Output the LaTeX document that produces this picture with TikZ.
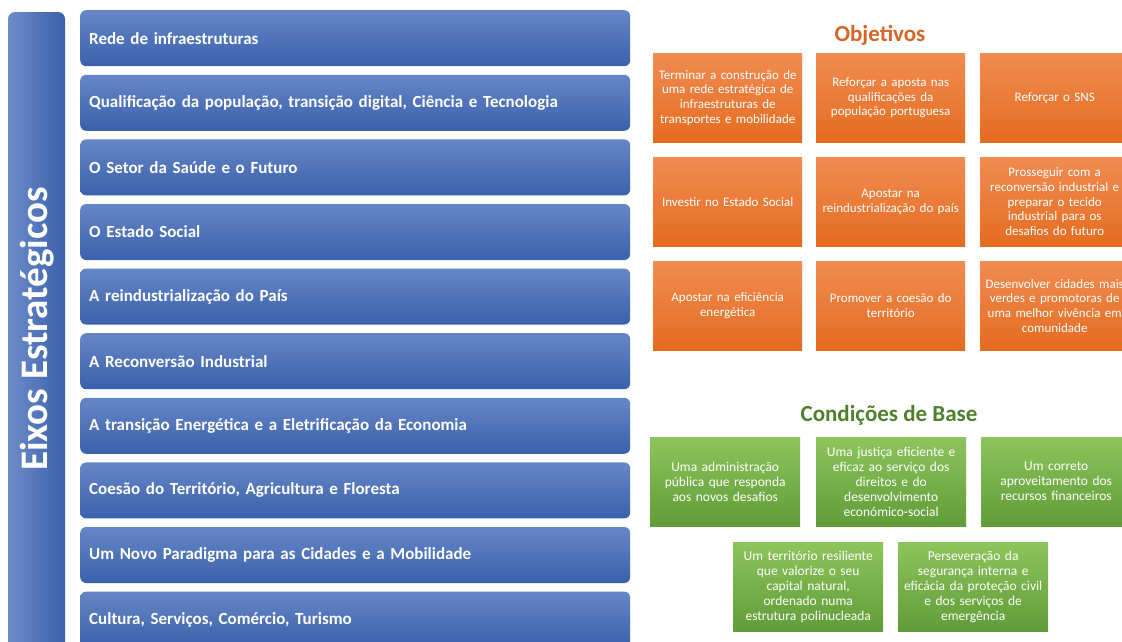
\documentclass[tikz,border=0pt]{standalone}
\usepackage{fontspec}
\setmainfont{Carlito}
\definecolor{bluetop}{RGB}{102,134,198}
\definecolor{bluebot}{RGB}{58,97,172}
\definecolor{orgtop}{RGB}{241,140,82}
\definecolor{orgbot}{RGB}{228,108,32}
\definecolor{grntop}{RGB}{142,196,92}
\definecolor{grnbot}{RGB}{96,156,56}
\definecolor{orgtitle}{RGB}{214,102,40}
\definecolor{grntitle}{RGB}{80,128,46}
\begin{document}
\begin{tikzpicture}[x=1pt,y=-1pt,
  axisbar/.style={rectangle, rounded corners=6pt, top color=bluetop, bottom color=bluebot, draw=none,
    minimum height=56pt, anchor=north west, text=white,
    font=\fontsize{17}{20}\selectfont\bfseries, align=left, text width=532pt, inner xsep=9pt, inner ysep=0pt},
  obox/.style={rectangle, top color=orgtop, bottom color=orgbot, draw=none,
    minimum height=89pt, anchor=north west, text=white, align=center, text width=147pt,
    inner xsep=1pt, inner ysep=0pt, font=\fontsize{13}{14.7}\selectfont},
  gbox/.style={rectangle, top color=grntop, bottom color=grnbot, draw=none,
    minimum height=89pt, anchor=north west, text=white, align=center, text width=148pt,
    inner xsep=1pt, inner ysep=0pt, font=\fontsize{13.5}{15}\selectfont},
  title/.style={font=\fontsize{23}{26}\selectfont\bfseries, inner sep=0pt}
]
\useasboundingbox (0,0) rectangle (1122,641);
\clip (0,0) rectangle (1122,641);
\fill[white] (0,0) rectangle (1122,641);

% left vertical bar
\shade[left color=bluetop!95!white, right color=bluebot, rounded corners=7pt] (8,12) rectangle (65,680);
\node[rotate=90, text=white, font=\fontsize{39}{42}\selectfont\bfseries, inner sep=0pt] (eixos) at (37,329) {Eixos Estratégicos};

% axis bars
\node[axisbar] (b1) at (80,10) {Rede de infraestruturas};
\node[axisbar] (b2) at (80,74.6) {Qualificação da população, transição digital, Ciência e Tecnologia};
\node[axisbar] (b3) at (80,139.2) {O Setor da Saúde e o Futuro};
\node[axisbar] (b4) at (80,203.8) {O Estado Social};
\node[axisbar] (b5) at (80,268.4) {A reindustrialização do País};
\node[axisbar] (b6) at (80,333) {A Reconversão Industrial};
\node[axisbar] (b7) at (80,397.6) {A transição Energética e a Eletrificação da Economia};
\node[axisbar] (b8) at (80,462.2) {Coesão do Território, Agricultura e Floresta};
\node[axisbar] (b9) at (80,526.8) {Um Novo Paradigma para as Cidades e a Mobilidade};
\node[axisbar] (b10) at (80,591.4) {Cultura, Serviços, Comércio, Turismo};

% Objetivos
\node[title, text=orgtitle] (obj) at (880,35) {Objetivos};
\node[obox] (o1) at (653,53) {Terminar a construção de\\uma rede estratégica de\\infraestruturas de\\transportes e mobilidade};
\node[obox] (o2) at (816,53) {Reforçar a aposta nas\\qualificações da\\população portuguesa};
\node[obox] (o3) at (980,53) {Reforçar o SNS};
\node[obox] (o4) at (653,157) {Investir no Estado Social};
\node[obox] (o5) at (816,157) {Apostar na\\reindustrialização do país};
\node[obox] (o6) at (980,157) {Prosseguir com a\\reconversão industrial e\\preparar o tecido\\industrial para os\\desafios do futuro};
\node[obox] (o7) at (653,261) {Apostar na eficiência\\energética};
\node[obox] (o8) at (816,261) {Promover a coesão do\\território};
\node[obox] (o9) at (980,261) {Desenvolver cidades mais\\verdes e promotoras de\\uma melhor vivência em\\comunidade};

% Condicoes de Base
\node[title, text=grntitle] (cond) at (889,415) {Condições de Base};
\node[gbox] (g1) at (650,437) {Uma administração\\pública que responda\\aos novos desafios};
\node[gbox] (g2) at (816,437) {Uma justiça eficiente e\\eficaz ao serviço dos\\direitos e do\\desenvolvimento\\económico-social};
\node[gbox] (g3) at (981,437) {Um correto\\aproveitamento dos\\recursos financeiros};
\node[gbox] (g4) at (733,542) {Um território resiliente\\que valorize o seu\\capital natural,\\ordenado numa\\estrutura polinucleada};
\node[gbox] (g5) at (898,542) {Perseveração da\\segurança interna e\\eficácia da proteção civil\\e dos serviços de\\emergência};
\end{tikzpicture}
\end{document}
